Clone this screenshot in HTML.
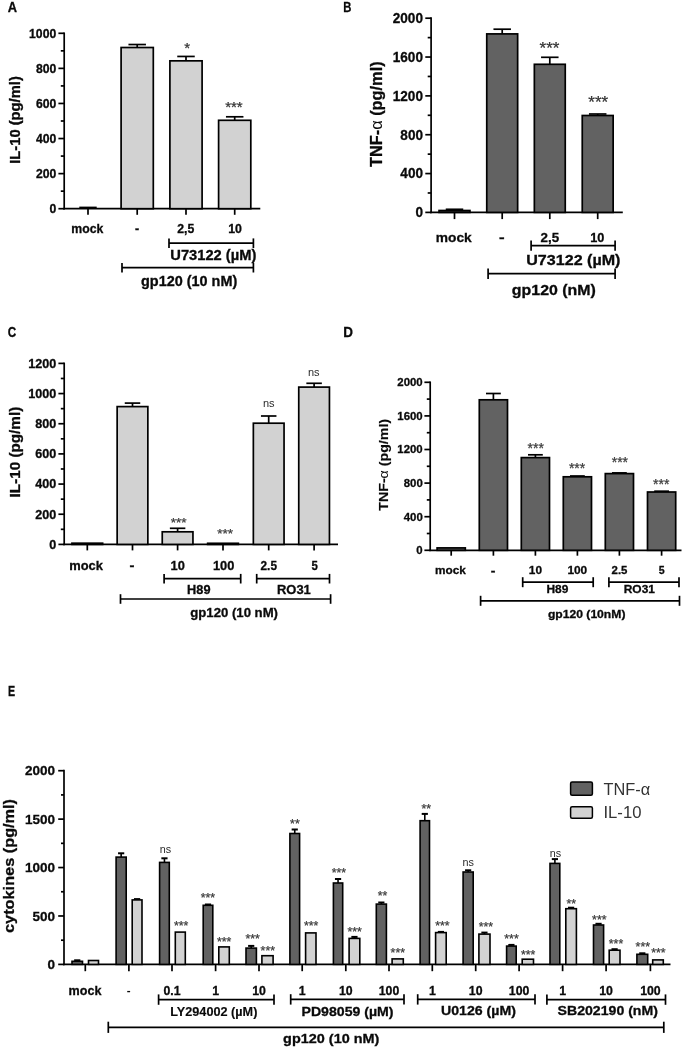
<!DOCTYPE html>
<html><head><meta charset="utf-8"><title>Figure</title>
<style>html,body{margin:0;padding:0;background:#fff}svg{display:block}</style>
</head><body>
<svg width="685" height="1048" viewBox="0 0 685 1048" font-family="'Liberation Sans', sans-serif">
<rect width="685" height="1048" fill="#fff"/>
<text transform="translate(7.71,12.20) scale(0.898,1)" font-size="14.3" font-weight="bold" fill="#0a0a0a" stroke="#0a0a0a" stroke-width="0.3">A</text>
<text transform="translate(19.90,163.83) rotate(-90) scale(1.032,1)" font-size="14.3" font-weight="bold" fill="#0a0a0a" stroke="#0a0a0a" stroke-width="0.3">IL-10 (pg/ml)</text>
<line x1="64.20" y1="32.45" x2="64.20" y2="209.55" stroke="#000" stroke-width="1.7" stroke-linecap="butt"/>
<line x1="58.40" y1="208.70" x2="64.20" y2="208.70" stroke="#000" stroke-width="1.7" stroke-linecap="butt"/>
<text transform="translate(49.46,212.91) scale(1.0,1)" font-size="12.2" font-weight="bold" fill="#0a0a0a" stroke="#0a0a0a" stroke-width="0.3">0</text>
<line x1="58.40" y1="173.62" x2="64.20" y2="173.62" stroke="#000" stroke-width="1.7" stroke-linecap="butt"/>
<text transform="translate(35.91,177.83) scale(1.0,1)" font-size="12.2" font-weight="bold" fill="#0a0a0a" stroke="#0a0a0a" stroke-width="0.3">200</text>
<line x1="58.40" y1="138.54" x2="64.20" y2="138.54" stroke="#000" stroke-width="1.7" stroke-linecap="butt"/>
<text transform="translate(35.91,142.75) scale(1.0,1)" font-size="12.2" font-weight="bold" fill="#0a0a0a" stroke="#0a0a0a" stroke-width="0.3">400</text>
<line x1="58.40" y1="103.46" x2="64.20" y2="103.46" stroke="#000" stroke-width="1.7" stroke-linecap="butt"/>
<text transform="translate(35.91,107.67) scale(1.0,1)" font-size="12.2" font-weight="bold" fill="#0a0a0a" stroke="#0a0a0a" stroke-width="0.3">600</text>
<line x1="58.40" y1="68.38" x2="64.20" y2="68.38" stroke="#000" stroke-width="1.7" stroke-linecap="butt"/>
<text transform="translate(35.91,72.59) scale(1.0,1)" font-size="12.2" font-weight="bold" fill="#0a0a0a" stroke="#0a0a0a" stroke-width="0.3">800</text>
<line x1="58.40" y1="33.30" x2="64.20" y2="33.30" stroke="#000" stroke-width="1.7" stroke-linecap="butt"/>
<text transform="translate(29.08,37.51) scale(1.0,1)" font-size="12.2" font-weight="bold" fill="#0a0a0a" stroke="#0a0a0a" stroke-width="0.3">1000</text>
<line x1="60.80" y1="191.16" x2="64.20" y2="191.16" stroke="#000" stroke-width="1.7" stroke-linecap="butt"/>
<line x1="60.80" y1="156.08" x2="64.20" y2="156.08" stroke="#000" stroke-width="1.7" stroke-linecap="butt"/>
<line x1="60.80" y1="121.00" x2="64.20" y2="121.00" stroke="#000" stroke-width="1.7" stroke-linecap="butt"/>
<line x1="60.80" y1="85.92" x2="64.20" y2="85.92" stroke="#000" stroke-width="1.7" stroke-linecap="butt"/>
<line x1="60.80" y1="50.84" x2="64.20" y2="50.84" stroke="#000" stroke-width="1.7" stroke-linecap="butt"/>
<line x1="63.35" y1="208.70" x2="260.30" y2="208.70" stroke="#000" stroke-width="1.7" stroke-linecap="butt"/>
<line x1="79.30" y1="207.50" x2="96.70" y2="207.50" stroke="#000" stroke-width="1.8" stroke-linecap="butt"/>
<line x1="88.00" y1="208.70" x2="88.00" y2="214.80" stroke="#000" stroke-width="1.7" stroke-linecap="butt"/>
<line x1="137.20" y1="47.51" x2="137.20" y2="44.53" stroke="#000" stroke-width="1.7" stroke-linecap="butt"/>
<line x1="128.45" y1="44.53" x2="145.95" y2="44.53" stroke="#000" stroke-width="1.7" stroke-linecap="butt"/>
<rect x="121.10" y="47.51" width="32.20" height="161.19" fill="#d2d2d2" stroke="#000" stroke-width="1.7"/>
<line x1="137.20" y1="208.70" x2="137.20" y2="214.80" stroke="#000" stroke-width="1.7" stroke-linecap="butt"/>
<line x1="186.00" y1="60.84" x2="186.00" y2="56.45" stroke="#000" stroke-width="1.7" stroke-linecap="butt"/>
<line x1="177.25" y1="56.45" x2="194.75" y2="56.45" stroke="#000" stroke-width="1.7" stroke-linecap="butt"/>
<rect x="169.90" y="60.84" width="32.20" height="147.86" fill="#d2d2d2" stroke="#000" stroke-width="1.7"/>
<line x1="186.00" y1="208.70" x2="186.00" y2="214.80" stroke="#000" stroke-width="1.7" stroke-linecap="butt"/>
<line x1="234.70" y1="120.30" x2="234.70" y2="116.79" stroke="#000" stroke-width="1.7" stroke-linecap="butt"/>
<line x1="225.95" y1="116.79" x2="243.45" y2="116.79" stroke="#000" stroke-width="1.7" stroke-linecap="butt"/>
<rect x="218.60" y="120.30" width="32.20" height="88.40" fill="#d2d2d2" stroke="#000" stroke-width="1.7"/>
<line x1="234.70" y1="208.70" x2="234.70" y2="214.80" stroke="#000" stroke-width="1.7" stroke-linecap="butt"/>
<text transform="translate(71.24,232.50) scale(0.974,1)" font-size="12.6" font-weight="bold" fill="#0a0a0a" stroke="#0a0a0a" stroke-width="0.3">mock</text>
<text transform="translate(135.00,232.50) scale(0.984,1)" font-size="12.6" font-weight="bold" fill="#0a0a0a" stroke="#0a0a0a" stroke-width="0.3">-</text>
<text transform="translate(177.23,232.50) scale(0.973,1)" font-size="12.6" font-weight="bold" fill="#0a0a0a" stroke="#0a0a0a" stroke-width="0.3">2,5</text>
<text transform="translate(228.26,232.50) scale(0.980,1)" font-size="12.6" font-weight="bold" fill="#0a0a0a" stroke="#0a0a0a" stroke-width="0.3">10</text>
<text x="187.20" y="52.55" font-size="15" text-anchor="middle" font-weight="normal" fill="#333" stroke="#333" stroke-width="0.25">*</text>
<text x="233.90" y="111.65" font-size="15" text-anchor="middle" font-weight="normal" fill="#333" stroke="#333" stroke-width="0.25">***</text>
<line x1="169.00" y1="243.20" x2="253.40" y2="243.20" stroke="#000" stroke-width="1.7" stroke-linecap="butt"/>
<line x1="169.00" y1="238.40" x2="169.00" y2="248.00" stroke="#000" stroke-width="1.7" stroke-linecap="butt"/>
<line x1="253.40" y1="238.40" x2="253.40" y2="248.00" stroke="#000" stroke-width="1.7" stroke-linecap="butt"/>
<text transform="translate(170.32,259.70) scale(1.065,1)" font-size="13.8" font-weight="bold" fill="#0a0a0a" stroke="#0a0a0a" stroke-width="0.3">U73122 (µM)</text>
<line x1="122.00" y1="267.70" x2="253.40" y2="267.70" stroke="#000" stroke-width="1.7" stroke-linecap="butt"/>
<line x1="122.00" y1="262.90" x2="122.00" y2="272.50" stroke="#000" stroke-width="1.7" stroke-linecap="butt"/>
<line x1="253.40" y1="262.90" x2="253.40" y2="272.50" stroke="#000" stroke-width="1.7" stroke-linecap="butt"/>
<text transform="translate(141.02,286.20) scale(1.047,1)" font-size="13.8" font-weight="bold" fill="#0a0a0a" stroke="#0a0a0a" stroke-width="0.3">gp120 (10 nM)</text>
<text transform="translate(343.31,11.90) scale(0.791,1)" font-size="14.3" font-weight="bold" fill="#0a0a0a" stroke="#0a0a0a" stroke-width="0.3">B</text>
<text transform="translate(381.50,167.06) rotate(-90) scale(1.010,1)" font-size="16.2" font-weight="bold" fill="#0a0a0a" stroke="#0a0a0a" stroke-width="0.3">TNF-<tspan font-weight="normal" stroke="none">α</tspan> (pg/ml)</text>
<line x1="431.10" y1="17.35" x2="431.10" y2="213.25" stroke="#000" stroke-width="1.7" stroke-linecap="butt"/>
<line x1="425.30" y1="212.40" x2="431.10" y2="212.40" stroke="#000" stroke-width="1.7" stroke-linecap="butt"/>
<text transform="translate(415.44,217.23) scale(0.97,1)" font-size="14.0" font-weight="bold" fill="#0a0a0a" stroke="#0a0a0a" stroke-width="0.3">0</text>
<line x1="425.30" y1="173.56" x2="431.10" y2="173.56" stroke="#000" stroke-width="1.7" stroke-linecap="butt"/>
<text transform="translate(400.36,178.39) scale(0.97,1)" font-size="14.0" font-weight="bold" fill="#0a0a0a" stroke="#0a0a0a" stroke-width="0.3">400</text>
<line x1="425.30" y1="134.72" x2="431.10" y2="134.72" stroke="#000" stroke-width="1.7" stroke-linecap="butt"/>
<text transform="translate(400.36,139.55) scale(0.97,1)" font-size="14.0" font-weight="bold" fill="#0a0a0a" stroke="#0a0a0a" stroke-width="0.3">800</text>
<line x1="425.30" y1="95.88" x2="431.10" y2="95.88" stroke="#000" stroke-width="1.7" stroke-linecap="butt"/>
<text transform="translate(392.76,100.71) scale(0.97,1)" font-size="14.0" font-weight="bold" fill="#0a0a0a" stroke="#0a0a0a" stroke-width="0.3">1200</text>
<line x1="425.30" y1="57.04" x2="431.10" y2="57.04" stroke="#000" stroke-width="1.7" stroke-linecap="butt"/>
<text transform="translate(392.76,61.87) scale(0.97,1)" font-size="14.0" font-weight="bold" fill="#0a0a0a" stroke="#0a0a0a" stroke-width="0.3">1600</text>
<line x1="425.30" y1="18.20" x2="431.10" y2="18.20" stroke="#000" stroke-width="1.7" stroke-linecap="butt"/>
<text transform="translate(392.76,23.03) scale(0.97,1)" font-size="14.0" font-weight="bold" fill="#0a0a0a" stroke="#0a0a0a" stroke-width="0.3">2000</text>
<line x1="427.70" y1="192.98" x2="431.10" y2="192.98" stroke="#000" stroke-width="1.7" stroke-linecap="butt"/>
<line x1="427.70" y1="154.14" x2="431.10" y2="154.14" stroke="#000" stroke-width="1.7" stroke-linecap="butt"/>
<line x1="427.70" y1="115.30" x2="431.10" y2="115.30" stroke="#000" stroke-width="1.7" stroke-linecap="butt"/>
<line x1="427.70" y1="76.46" x2="431.10" y2="76.46" stroke="#000" stroke-width="1.7" stroke-linecap="butt"/>
<line x1="427.70" y1="37.62" x2="431.10" y2="37.62" stroke="#000" stroke-width="1.7" stroke-linecap="butt"/>
<line x1="430.25" y1="212.40" x2="622.80" y2="212.40" stroke="#000" stroke-width="1.7" stroke-linecap="butt"/>
<line x1="454.50" y1="210.50" x2="454.50" y2="209.30" stroke="#000" stroke-width="1.7" stroke-linecap="butt"/>
<line x1="445.75" y1="209.30" x2="463.25" y2="209.30" stroke="#000" stroke-width="1.7" stroke-linecap="butt"/>
<rect x="439.05" y="210.50" width="30.90" height="1.90" fill="#626262" stroke="#000" stroke-width="1.7"/>
<line x1="454.50" y1="212.40" x2="454.50" y2="219.10" stroke="#000" stroke-width="1.7" stroke-linecap="butt"/>
<line x1="502.20" y1="33.90" x2="502.20" y2="29.20" stroke="#000" stroke-width="1.7" stroke-linecap="butt"/>
<line x1="493.45" y1="29.20" x2="510.95" y2="29.20" stroke="#000" stroke-width="1.7" stroke-linecap="butt"/>
<rect x="486.75" y="33.90" width="30.90" height="178.50" fill="#626262" stroke="#000" stroke-width="1.7"/>
<line x1="502.20" y1="212.40" x2="502.20" y2="219.10" stroke="#000" stroke-width="1.7" stroke-linecap="butt"/>
<line x1="549.80" y1="64.30" x2="549.80" y2="57.30" stroke="#000" stroke-width="1.7" stroke-linecap="butt"/>
<line x1="541.05" y1="57.30" x2="558.55" y2="57.30" stroke="#000" stroke-width="1.7" stroke-linecap="butt"/>
<rect x="534.35" y="64.30" width="30.90" height="148.10" fill="#626262" stroke="#000" stroke-width="1.7"/>
<line x1="549.80" y1="212.40" x2="549.80" y2="219.10" stroke="#000" stroke-width="1.7" stroke-linecap="butt"/>
<line x1="597.70" y1="115.50" x2="597.70" y2="114.00" stroke="#000" stroke-width="1.7" stroke-linecap="butt"/>
<line x1="588.95" y1="114.00" x2="606.45" y2="114.00" stroke="#000" stroke-width="1.7" stroke-linecap="butt"/>
<rect x="582.25" y="115.50" width="30.90" height="96.90" fill="#626262" stroke="#000" stroke-width="1.7"/>
<line x1="597.70" y1="212.40" x2="597.70" y2="219.10" stroke="#000" stroke-width="1.7" stroke-linecap="butt"/>
<text transform="translate(435.84,241.80) scale(1.012,1)" font-size="13.6" font-weight="bold" fill="#0a0a0a" stroke="#0a0a0a" stroke-width="0.3">mock</text>
<text transform="translate(499.03,241.80) scale(1.235,1)" font-size="13.6" font-weight="bold" fill="#0a0a0a" stroke="#0a0a0a" stroke-width="0.3">-</text>
<text transform="translate(540.50,241.80) scale(0.999,1)" font-size="13.4" font-weight="bold" fill="#0a0a0a" stroke="#0a0a0a" stroke-width="0.3">2,5</text>
<text transform="translate(590.24,241.80) scale(0.951,1)" font-size="13.4" font-weight="bold" fill="#0a0a0a" stroke="#0a0a0a" stroke-width="0.3">10</text>
<text x="549.50" y="53.83" font-size="17" text-anchor="middle" font-weight="normal" fill="#333" stroke="#333" stroke-width="0.25">***</text>
<text x="598.30" y="108.33" font-size="17" text-anchor="middle" font-weight="normal" fill="#333" stroke="#333" stroke-width="0.25">***</text>
<line x1="531.10" y1="245.60" x2="615.10" y2="245.60" stroke="#000" stroke-width="1.7" stroke-linecap="butt"/>
<line x1="531.10" y1="240.40" x2="531.10" y2="250.80" stroke="#000" stroke-width="1.7" stroke-linecap="butt"/>
<line x1="615.10" y1="240.40" x2="615.10" y2="250.80" stroke="#000" stroke-width="1.7" stroke-linecap="butt"/>
<text transform="translate(526.23,265.20) scale(1.103,1)" font-size="14.6" font-weight="bold" fill="#0a0a0a" stroke="#0a0a0a" stroke-width="0.3">U73122 (µM)</text>
<line x1="488.10" y1="273.70" x2="615.10" y2="273.70" stroke="#000" stroke-width="1.7" stroke-linecap="butt"/>
<line x1="488.10" y1="268.40" x2="488.10" y2="279.00" stroke="#000" stroke-width="1.7" stroke-linecap="butt"/>
<line x1="615.10" y1="268.40" x2="615.10" y2="279.00" stroke="#000" stroke-width="1.7" stroke-linecap="butt"/>
<text transform="translate(511.86,294.90) scale(1.090,1)" font-size="14.6" font-weight="bold" fill="#0a0a0a" stroke="#0a0a0a" stroke-width="0.3">gp120 (nM)</text>
<text transform="translate(7.73,337.00) scale(0.818,1)" font-size="14.3" font-weight="bold" fill="#0a0a0a" stroke="#0a0a0a" stroke-width="0.3">C</text>
<text transform="translate(19.80,497.47) rotate(-90) scale(1.068,1)" font-size="14.3" font-weight="bold" fill="#0a0a0a" stroke="#0a0a0a" stroke-width="0.3">IL-10 (pg/ml)</text>
<line x1="64.20" y1="362.55" x2="64.20" y2="545.25" stroke="#000" stroke-width="1.7" stroke-linecap="butt"/>
<line x1="58.40" y1="544.40" x2="64.20" y2="544.40" stroke="#000" stroke-width="1.7" stroke-linecap="butt"/>
<text transform="translate(49.35,548.75) scale(1.0,1)" font-size="12.6" font-weight="bold" fill="#0a0a0a" stroke="#0a0a0a" stroke-width="0.3">0</text>
<line x1="58.40" y1="514.23" x2="64.20" y2="514.23" stroke="#000" stroke-width="1.7" stroke-linecap="butt"/>
<text transform="translate(35.36,518.58) scale(1.0,1)" font-size="12.6" font-weight="bold" fill="#0a0a0a" stroke="#0a0a0a" stroke-width="0.3">200</text>
<line x1="58.40" y1="484.07" x2="64.20" y2="484.07" stroke="#000" stroke-width="1.7" stroke-linecap="butt"/>
<text transform="translate(35.36,488.41) scale(1.0,1)" font-size="12.6" font-weight="bold" fill="#0a0a0a" stroke="#0a0a0a" stroke-width="0.3">400</text>
<line x1="58.40" y1="453.90" x2="64.20" y2="453.90" stroke="#000" stroke-width="1.7" stroke-linecap="butt"/>
<text transform="translate(35.36,458.25) scale(1.0,1)" font-size="12.6" font-weight="bold" fill="#0a0a0a" stroke="#0a0a0a" stroke-width="0.3">600</text>
<line x1="58.40" y1="423.73" x2="64.20" y2="423.73" stroke="#000" stroke-width="1.7" stroke-linecap="butt"/>
<text transform="translate(35.36,428.08) scale(1.0,1)" font-size="12.6" font-weight="bold" fill="#0a0a0a" stroke="#0a0a0a" stroke-width="0.3">800</text>
<line x1="58.40" y1="393.57" x2="64.20" y2="393.57" stroke="#000" stroke-width="1.7" stroke-linecap="butt"/>
<text transform="translate(28.31,397.91) scale(1.0,1)" font-size="12.6" font-weight="bold" fill="#0a0a0a" stroke="#0a0a0a" stroke-width="0.3">1000</text>
<line x1="58.40" y1="363.40" x2="64.20" y2="363.40" stroke="#000" stroke-width="1.7" stroke-linecap="butt"/>
<text transform="translate(28.31,367.75) scale(1.0,1)" font-size="12.6" font-weight="bold" fill="#0a0a0a" stroke="#0a0a0a" stroke-width="0.3">1200</text>
<line x1="60.80" y1="529.32" x2="64.20" y2="529.32" stroke="#000" stroke-width="1.7" stroke-linecap="butt"/>
<line x1="60.80" y1="499.15" x2="64.20" y2="499.15" stroke="#000" stroke-width="1.7" stroke-linecap="butt"/>
<line x1="60.80" y1="468.98" x2="64.20" y2="468.98" stroke="#000" stroke-width="1.7" stroke-linecap="butt"/>
<line x1="60.80" y1="438.82" x2="64.20" y2="438.82" stroke="#000" stroke-width="1.7" stroke-linecap="butt"/>
<line x1="60.80" y1="408.65" x2="64.20" y2="408.65" stroke="#000" stroke-width="1.7" stroke-linecap="butt"/>
<line x1="60.80" y1="378.48" x2="64.20" y2="378.48" stroke="#000" stroke-width="1.7" stroke-linecap="butt"/>
<line x1="63.35" y1="544.40" x2="338.00" y2="544.40" stroke="#000" stroke-width="1.7" stroke-linecap="butt"/>
<rect x="71.95" y="543.20" width="30.70" height="1.20" fill="#d2d2d2" stroke="#000" stroke-width="1.7"/>
<line x1="87.30" y1="544.40" x2="87.30" y2="550.40" stroke="#000" stroke-width="1.7" stroke-linecap="butt"/>
<line x1="132.50" y1="406.60" x2="132.50" y2="403.10" stroke="#000" stroke-width="1.7" stroke-linecap="butt"/>
<line x1="124.75" y1="403.10" x2="140.25" y2="403.10" stroke="#000" stroke-width="1.7" stroke-linecap="butt"/>
<rect x="117.15" y="406.60" width="30.70" height="137.80" fill="#d2d2d2" stroke="#000" stroke-width="1.7"/>
<line x1="132.50" y1="544.40" x2="132.50" y2="550.40" stroke="#000" stroke-width="1.7" stroke-linecap="butt"/>
<line x1="177.60" y1="531.80" x2="177.60" y2="528.30" stroke="#000" stroke-width="1.7" stroke-linecap="butt"/>
<line x1="169.85" y1="528.30" x2="185.35" y2="528.30" stroke="#000" stroke-width="1.7" stroke-linecap="butt"/>
<rect x="162.25" y="531.80" width="30.70" height="12.60" fill="#d2d2d2" stroke="#000" stroke-width="1.7"/>
<line x1="177.60" y1="544.40" x2="177.60" y2="550.40" stroke="#000" stroke-width="1.7" stroke-linecap="butt"/>
<rect x="207.65" y="543.30" width="30.70" height="1.10" fill="#d2d2d2" stroke="#000" stroke-width="1.7"/>
<line x1="223.00" y1="544.40" x2="223.00" y2="550.40" stroke="#000" stroke-width="1.7" stroke-linecap="butt"/>
<line x1="268.70" y1="423.20" x2="268.70" y2="416.00" stroke="#000" stroke-width="1.7" stroke-linecap="butt"/>
<line x1="260.95" y1="416.00" x2="276.45" y2="416.00" stroke="#000" stroke-width="1.7" stroke-linecap="butt"/>
<rect x="253.35" y="423.20" width="30.70" height="121.20" fill="#d2d2d2" stroke="#000" stroke-width="1.7"/>
<line x1="268.70" y1="544.40" x2="268.70" y2="550.40" stroke="#000" stroke-width="1.7" stroke-linecap="butt"/>
<line x1="314.10" y1="387.10" x2="314.10" y2="383.30" stroke="#000" stroke-width="1.7" stroke-linecap="butt"/>
<line x1="306.35" y1="383.30" x2="321.85" y2="383.30" stroke="#000" stroke-width="1.7" stroke-linecap="butt"/>
<rect x="298.75" y="387.10" width="30.70" height="157.30" fill="#d2d2d2" stroke="#000" stroke-width="1.7"/>
<line x1="314.10" y1="544.40" x2="314.10" y2="550.40" stroke="#000" stroke-width="1.7" stroke-linecap="butt"/>
<text transform="translate(69.20,569.80) scale(1.008,1)" font-size="12.8" font-weight="bold" fill="#0a0a0a" stroke="#0a0a0a" stroke-width="0.3">mock</text>
<text transform="translate(129.41,569.80) scale(1.156,1)" font-size="12.8" font-weight="bold" fill="#0a0a0a" stroke="#0a0a0a" stroke-width="0.3">-</text>
<text transform="translate(170.53,569.80) scale(1.003,1)" font-size="12.8" font-weight="bold" fill="#0a0a0a" stroke="#0a0a0a" stroke-width="0.3">10</text>
<text transform="translate(212.93,569.80) scale(1.005,1)" font-size="12.8" font-weight="bold" fill="#0a0a0a" stroke="#0a0a0a" stroke-width="0.3">100</text>
<text transform="translate(260.55,569.80) scale(0.922,1)" font-size="12.8" font-weight="bold" fill="#0a0a0a" stroke="#0a0a0a" stroke-width="0.3">2.5</text>
<text transform="translate(311.46,569.80) scale(0.891,1)" font-size="12.8" font-weight="bold" fill="#0a0a0a" stroke="#0a0a0a" stroke-width="0.3">5</text>
<text x="178.70" y="527.18" font-size="13.6" text-anchor="middle" font-weight="normal" fill="#3c3c3c" stroke="#3c3c3c" stroke-width="0.25">***</text>
<text x="225.10" y="537.78" font-size="13.6" text-anchor="middle" font-weight="normal" fill="#3c3c3c" stroke="#3c3c3c" stroke-width="0.25">***</text>
<text x="268.70" y="406.60" font-size="11" text-anchor="middle" font-weight="normal" fill="#2a2a2a">ns</text>
<text x="313.70" y="376.00" font-size="11" text-anchor="middle" font-weight="normal" fill="#2a2a2a">ns</text>
<line x1="164.10" y1="578.70" x2="240.70" y2="578.70" stroke="#000" stroke-width="1.7" stroke-linecap="butt"/>
<line x1="164.10" y1="573.90" x2="164.10" y2="583.50" stroke="#000" stroke-width="1.7" stroke-linecap="butt"/>
<line x1="240.70" y1="573.90" x2="240.70" y2="583.50" stroke="#000" stroke-width="1.7" stroke-linecap="butt"/>
<text transform="translate(187.11,594.30) scale(1.014,1)" font-size="12.6" font-weight="bold" fill="#0a0a0a" stroke="#0a0a0a" stroke-width="0.3">H89</text>
<line x1="256.70" y1="578.70" x2="329.50" y2="578.70" stroke="#000" stroke-width="1.7" stroke-linecap="butt"/>
<line x1="256.70" y1="573.90" x2="256.70" y2="583.50" stroke="#000" stroke-width="1.7" stroke-linecap="butt"/>
<line x1="329.50" y1="573.90" x2="329.50" y2="583.50" stroke="#000" stroke-width="1.7" stroke-linecap="butt"/>
<text transform="translate(276.99,594.30) scale(1.027,1)" font-size="12.6" font-weight="bold" fill="#0a0a0a" stroke="#0a0a0a" stroke-width="0.3">RO31</text>
<line x1="120.50" y1="599.00" x2="330.60" y2="599.00" stroke="#000" stroke-width="1.7" stroke-linecap="butt"/>
<line x1="120.50" y1="594.20" x2="120.50" y2="603.80" stroke="#000" stroke-width="1.7" stroke-linecap="butt"/>
<line x1="330.60" y1="594.20" x2="330.60" y2="603.80" stroke="#000" stroke-width="1.7" stroke-linecap="butt"/>
<text transform="translate(190.27,617.00) scale(1.029,1)" font-size="12.8" font-weight="bold" fill="#0a0a0a" stroke="#0a0a0a" stroke-width="0.3">gp120 (10 nM)</text>
<text transform="translate(343.16,337.00) scale(0.940,1)" font-size="14.3" font-weight="bold" fill="#0a0a0a" stroke="#0a0a0a" stroke-width="0.3">D</text>
<text transform="translate(387.80,510.74) rotate(-90) scale(1.129,1)" font-size="12.6" font-weight="bold" fill="#0a0a0a" stroke="#0a0a0a" stroke-width="0.15">TNF-<tspan font-weight="normal" stroke="none">α</tspan> (pg/ml)</text>
<line x1="430.20" y1="381.45" x2="430.20" y2="551.15" stroke="#000" stroke-width="1.7" stroke-linecap="butt"/>
<line x1="424.40" y1="550.30" x2="430.20" y2="550.30" stroke="#000" stroke-width="1.7" stroke-linecap="butt"/>
<text transform="translate(416.37,554.23) scale(1.0,1)" font-size="11.4" font-weight="bold" fill="#0a0a0a" stroke="#0a0a0a" stroke-width="0.3">0</text>
<line x1="424.40" y1="516.70" x2="430.20" y2="516.70" stroke="#000" stroke-width="1.7" stroke-linecap="butt"/>
<text transform="translate(403.72,520.63) scale(1.0,1)" font-size="11.4" font-weight="bold" fill="#0a0a0a" stroke="#0a0a0a" stroke-width="0.3">400</text>
<line x1="424.40" y1="483.10" x2="430.20" y2="483.10" stroke="#000" stroke-width="1.7" stroke-linecap="butt"/>
<text transform="translate(403.72,487.03) scale(1.0,1)" font-size="11.4" font-weight="bold" fill="#0a0a0a" stroke="#0a0a0a" stroke-width="0.3">800</text>
<line x1="424.40" y1="449.50" x2="430.20" y2="449.50" stroke="#000" stroke-width="1.7" stroke-linecap="butt"/>
<text transform="translate(397.33,453.43) scale(1.0,1)" font-size="11.4" font-weight="bold" fill="#0a0a0a" stroke="#0a0a0a" stroke-width="0.3">1200</text>
<line x1="424.40" y1="415.90" x2="430.20" y2="415.90" stroke="#000" stroke-width="1.7" stroke-linecap="butt"/>
<text transform="translate(397.33,419.83) scale(1.0,1)" font-size="11.4" font-weight="bold" fill="#0a0a0a" stroke="#0a0a0a" stroke-width="0.3">1600</text>
<line x1="424.40" y1="382.30" x2="430.20" y2="382.30" stroke="#000" stroke-width="1.7" stroke-linecap="butt"/>
<text transform="translate(397.33,386.23) scale(1.0,1)" font-size="11.4" font-weight="bold" fill="#0a0a0a" stroke="#0a0a0a" stroke-width="0.3">2000</text>
<line x1="426.80" y1="533.50" x2="430.20" y2="533.50" stroke="#000" stroke-width="1.7" stroke-linecap="butt"/>
<line x1="426.80" y1="499.90" x2="430.20" y2="499.90" stroke="#000" stroke-width="1.7" stroke-linecap="butt"/>
<line x1="426.80" y1="466.30" x2="430.20" y2="466.30" stroke="#000" stroke-width="1.7" stroke-linecap="butt"/>
<line x1="426.80" y1="432.70" x2="430.20" y2="432.70" stroke="#000" stroke-width="1.7" stroke-linecap="butt"/>
<line x1="426.80" y1="399.10" x2="430.20" y2="399.10" stroke="#000" stroke-width="1.7" stroke-linecap="butt"/>
<line x1="429.35" y1="550.30" x2="681.50" y2="550.30" stroke="#000" stroke-width="1.7" stroke-linecap="butt"/>
<rect x="437.10" y="547.90" width="28.20" height="2.40" fill="#626262" stroke="#000" stroke-width="1.7"/>
<line x1="451.20" y1="550.30" x2="451.20" y2="555.70" stroke="#000" stroke-width="1.7" stroke-linecap="butt"/>
<line x1="493.40" y1="399.80" x2="493.40" y2="393.50" stroke="#000" stroke-width="1.7" stroke-linecap="butt"/>
<line x1="486.00" y1="393.50" x2="500.80" y2="393.50" stroke="#000" stroke-width="1.7" stroke-linecap="butt"/>
<rect x="479.30" y="399.80" width="28.20" height="150.50" fill="#626262" stroke="#000" stroke-width="1.7"/>
<line x1="493.40" y1="550.30" x2="493.40" y2="555.70" stroke="#000" stroke-width="1.7" stroke-linecap="butt"/>
<line x1="535.40" y1="457.60" x2="535.40" y2="454.80" stroke="#000" stroke-width="1.7" stroke-linecap="butt"/>
<line x1="528.00" y1="454.80" x2="542.80" y2="454.80" stroke="#000" stroke-width="1.7" stroke-linecap="butt"/>
<rect x="521.30" y="457.60" width="28.20" height="92.70" fill="#626262" stroke="#000" stroke-width="1.7"/>
<line x1="535.40" y1="550.30" x2="535.40" y2="555.70" stroke="#000" stroke-width="1.7" stroke-linecap="butt"/>
<line x1="577.40" y1="476.80" x2="577.40" y2="476.00" stroke="#000" stroke-width="1.7" stroke-linecap="butt"/>
<line x1="570.00" y1="476.00" x2="584.80" y2="476.00" stroke="#000" stroke-width="1.7" stroke-linecap="butt"/>
<rect x="563.30" y="476.80" width="28.20" height="73.50" fill="#626262" stroke="#000" stroke-width="1.7"/>
<line x1="577.40" y1="550.30" x2="577.40" y2="555.70" stroke="#000" stroke-width="1.7" stroke-linecap="butt"/>
<line x1="619.40" y1="473.60" x2="619.40" y2="472.90" stroke="#000" stroke-width="1.7" stroke-linecap="butt"/>
<line x1="612.00" y1="472.90" x2="626.80" y2="472.90" stroke="#000" stroke-width="1.7" stroke-linecap="butt"/>
<rect x="605.30" y="473.60" width="28.20" height="76.70" fill="#626262" stroke="#000" stroke-width="1.7"/>
<line x1="619.40" y1="550.30" x2="619.40" y2="555.70" stroke="#000" stroke-width="1.7" stroke-linecap="butt"/>
<line x1="661.60" y1="492.00" x2="661.60" y2="491.20" stroke="#000" stroke-width="1.7" stroke-linecap="butt"/>
<line x1="654.20" y1="491.20" x2="669.00" y2="491.20" stroke="#000" stroke-width="1.7" stroke-linecap="butt"/>
<rect x="647.50" y="492.00" width="28.20" height="58.30" fill="#626262" stroke="#000" stroke-width="1.7"/>
<line x1="661.60" y1="550.30" x2="661.60" y2="555.70" stroke="#000" stroke-width="1.7" stroke-linecap="butt"/>
<text transform="translate(435.07,574.40) scale(1.000,1)" font-size="11.8" font-weight="bold" fill="#0a0a0a" stroke="#0a0a0a" stroke-width="0.3">mock</text>
<text transform="translate(490.74,574.40) scale(1.186,1)" font-size="11.8" font-weight="bold" fill="#0a0a0a" stroke="#0a0a0a" stroke-width="0.3">-</text>
<text transform="translate(528.79,574.40) scale(1.005,1)" font-size="11.8" font-weight="bold" fill="#0a0a0a" stroke="#0a0a0a" stroke-width="0.3">10</text>
<text transform="translate(567.39,574.40) scale(1.009,1)" font-size="11.8" font-weight="bold" fill="#0a0a0a" stroke="#0a0a0a" stroke-width="0.3">100</text>
<text transform="translate(611.56,574.40) scale(0.969,1)" font-size="11.8" font-weight="bold" fill="#0a0a0a" stroke="#0a0a0a" stroke-width="0.3">2.5</text>
<text transform="translate(658.68,574.40) scale(0.898,1)" font-size="11.8" font-weight="bold" fill="#0a0a0a" stroke="#0a0a0a" stroke-width="0.3">5</text>
<text x="535.80" y="452.86" font-size="14" text-anchor="middle" font-weight="normal" fill="#3c3c3c" stroke="#3c3c3c" stroke-width="0.25">***</text>
<text x="577.10" y="473.16" font-size="14" text-anchor="middle" font-weight="normal" fill="#3c3c3c" stroke="#3c3c3c" stroke-width="0.25">***</text>
<text x="619.90" y="467.46" font-size="14" text-anchor="middle" font-weight="normal" fill="#3c3c3c" stroke="#3c3c3c" stroke-width="0.25">***</text>
<text x="661.20" y="488.56" font-size="14" text-anchor="middle" font-weight="normal" fill="#3c3c3c" stroke="#3c3c3c" stroke-width="0.25">***</text>
<line x1="522.70" y1="582.20" x2="593.20" y2="582.20" stroke="#000" stroke-width="1.7" stroke-linecap="butt"/>
<line x1="522.70" y1="577.20" x2="522.70" y2="587.20" stroke="#000" stroke-width="1.7" stroke-linecap="butt"/>
<line x1="593.20" y1="577.20" x2="593.20" y2="587.20" stroke="#000" stroke-width="1.7" stroke-linecap="butt"/>
<text transform="translate(546.46,592.80) scale(1.050,1)" font-size="11.4" font-weight="bold" fill="#0a0a0a" stroke="#0a0a0a" stroke-width="0.3">H89</text>
<line x1="608.90" y1="582.20" x2="679.00" y2="582.20" stroke="#000" stroke-width="1.7" stroke-linecap="butt"/>
<line x1="608.90" y1="577.20" x2="608.90" y2="587.20" stroke="#000" stroke-width="1.7" stroke-linecap="butt"/>
<line x1="679.00" y1="577.20" x2="679.00" y2="587.20" stroke="#000" stroke-width="1.7" stroke-linecap="butt"/>
<text transform="translate(623.76,592.80) scale(1.048,1)" font-size="11.4" font-weight="bold" fill="#0a0a0a" stroke="#0a0a0a" stroke-width="0.3">RO31</text>
<line x1="480.60" y1="600.80" x2="679.50" y2="600.80" stroke="#000" stroke-width="1.7" stroke-linecap="butt"/>
<line x1="480.60" y1="595.80" x2="480.60" y2="605.80" stroke="#000" stroke-width="1.7" stroke-linecap="butt"/>
<line x1="679.50" y1="595.80" x2="679.50" y2="605.80" stroke="#000" stroke-width="1.7" stroke-linecap="butt"/>
<text transform="translate(547.91,618.00) scale(1.065,1)" font-size="11.4" font-weight="bold" fill="#0a0a0a" stroke="#0a0a0a" stroke-width="0.3">gp120 (10nM)</text>
<text transform="translate(8.05,696.40) scale(0.749,1)" font-size="14.3" font-weight="bold" fill="#0a0a0a" stroke="#0a0a0a" stroke-width="0.3">E</text>
<text transform="translate(14.40,932.95) rotate(-90) scale(1.073,1)" font-size="15.2" font-weight="bold" fill="#0a0a0a" stroke="#0a0a0a" stroke-width="0.3">cytokines (pg/ml)</text>
<line x1="64.00" y1="769.85" x2="64.00" y2="965.25" stroke="#000" stroke-width="1.7" stroke-linecap="butt"/>
<line x1="58.20" y1="964.40" x2="64.00" y2="964.40" stroke="#000" stroke-width="1.7" stroke-linecap="butt"/>
<text transform="translate(47.58,969.06) scale(1.0,1)" font-size="13.5" font-weight="bold" fill="#0a0a0a" stroke="#0a0a0a" stroke-width="0.3">0</text>
<line x1="58.20" y1="915.98" x2="64.00" y2="915.98" stroke="#000" stroke-width="1.7" stroke-linecap="butt"/>
<text transform="translate(32.59,920.63) scale(1.0,1)" font-size="13.5" font-weight="bold" fill="#0a0a0a" stroke="#0a0a0a" stroke-width="0.3">500</text>
<line x1="58.20" y1="867.55" x2="64.00" y2="867.55" stroke="#000" stroke-width="1.7" stroke-linecap="butt"/>
<text transform="translate(25.04,872.21) scale(1.0,1)" font-size="13.5" font-weight="bold" fill="#0a0a0a" stroke="#0a0a0a" stroke-width="0.3">1000</text>
<line x1="58.20" y1="819.12" x2="64.00" y2="819.12" stroke="#000" stroke-width="1.7" stroke-linecap="butt"/>
<text transform="translate(25.04,823.78) scale(1.0,1)" font-size="13.5" font-weight="bold" fill="#0a0a0a" stroke="#0a0a0a" stroke-width="0.3">1500</text>
<line x1="58.20" y1="770.70" x2="64.00" y2="770.70" stroke="#000" stroke-width="1.7" stroke-linecap="butt"/>
<text transform="translate(25.04,775.36) scale(1.0,1)" font-size="13.5" font-weight="bold" fill="#0a0a0a" stroke="#0a0a0a" stroke-width="0.3">2000</text>
<line x1="61.00" y1="940.19" x2="64.00" y2="940.19" stroke="#000" stroke-width="1.7" stroke-linecap="butt"/>
<line x1="61.00" y1="891.76" x2="64.00" y2="891.76" stroke="#000" stroke-width="1.7" stroke-linecap="butt"/>
<line x1="61.00" y1="843.34" x2="64.00" y2="843.34" stroke="#000" stroke-width="1.7" stroke-linecap="butt"/>
<line x1="61.00" y1="794.91" x2="64.00" y2="794.91" stroke="#000" stroke-width="1.7" stroke-linecap="butt"/>
<line x1="63.15" y1="964.40" x2="670.50" y2="964.40" stroke="#000" stroke-width="1.7" stroke-linecap="butt"/>
<line x1="77.25" y1="961.30" x2="77.25" y2="960.30" stroke="#000" stroke-width="1.6" stroke-linecap="butt"/>
<line x1="74.15" y1="960.30" x2="80.35" y2="960.30" stroke="#000" stroke-width="2.0" stroke-linecap="butt"/>
<rect x="72.00" y="961.30" width="10.50" height="3.10" fill="#626262" stroke="#000" stroke-width="1.6"/>
<rect x="88.50" y="960.50" width="10.00" height="3.90" fill="#d2d2d2" stroke="#000" stroke-width="1.6"/>
<line x1="85.30" y1="964.40" x2="85.30" y2="971.20" stroke="#000" stroke-width="1.7" stroke-linecap="butt"/>
<line x1="121.15" y1="857.10" x2="121.15" y2="853.30" stroke="#000" stroke-width="1.6" stroke-linecap="butt"/>
<line x1="118.05" y1="853.30" x2="124.25" y2="853.30" stroke="#000" stroke-width="2.0" stroke-linecap="butt"/>
<rect x="116.10" y="857.10" width="10.10" height="107.30" fill="#626262" stroke="#000" stroke-width="1.6"/>
<line x1="137.10" y1="899.90" x2="137.10" y2="899.10" stroke="#000" stroke-width="1.6" stroke-linecap="butt"/>
<line x1="134.00" y1="899.10" x2="140.20" y2="899.10" stroke="#000" stroke-width="2.0" stroke-linecap="butt"/>
<rect x="132.20" y="899.90" width="9.80" height="64.50" fill="#d2d2d2" stroke="#000" stroke-width="1.6"/>
<line x1="128.90" y1="964.40" x2="128.90" y2="971.20" stroke="#000" stroke-width="1.7" stroke-linecap="butt"/>
<line x1="164.45" y1="862.40" x2="164.45" y2="858.30" stroke="#000" stroke-width="1.6" stroke-linecap="butt"/>
<line x1="161.35" y1="858.30" x2="167.55" y2="858.30" stroke="#000" stroke-width="2.0" stroke-linecap="butt"/>
<rect x="159.60" y="862.40" width="9.70" height="102.00" fill="#626262" stroke="#000" stroke-width="1.6"/>
<rect x="175.30" y="932.10" width="10.00" height="32.30" fill="#d2d2d2" stroke="#000" stroke-width="1.6"/>
<line x1="172.00" y1="964.40" x2="172.00" y2="971.20" stroke="#000" stroke-width="1.7" stroke-linecap="butt"/>
<line x1="208.00" y1="905.30" x2="208.00" y2="904.50" stroke="#000" stroke-width="1.6" stroke-linecap="butt"/>
<line x1="204.90" y1="904.50" x2="211.10" y2="904.50" stroke="#000" stroke-width="2.0" stroke-linecap="butt"/>
<rect x="203.20" y="905.30" width="9.60" height="59.10" fill="#626262" stroke="#000" stroke-width="1.6"/>
<rect x="218.80" y="946.90" width="10.50" height="17.50" fill="#d2d2d2" stroke="#000" stroke-width="1.6"/>
<line x1="215.60" y1="964.40" x2="215.60" y2="971.20" stroke="#000" stroke-width="1.7" stroke-linecap="butt"/>
<line x1="251.20" y1="948.10" x2="251.20" y2="945.90" stroke="#000" stroke-width="1.6" stroke-linecap="butt"/>
<line x1="248.10" y1="945.90" x2="254.30" y2="945.90" stroke="#000" stroke-width="2.0" stroke-linecap="butt"/>
<rect x="246.00" y="948.10" width="10.40" height="16.30" fill="#626262" stroke="#000" stroke-width="1.6"/>
<rect x="261.90" y="955.70" width="11.20" height="8.70" fill="#d2d2d2" stroke="#000" stroke-width="1.6"/>
<line x1="259.00" y1="964.40" x2="259.00" y2="971.20" stroke="#000" stroke-width="1.7" stroke-linecap="butt"/>
<line x1="294.75" y1="833.50" x2="294.75" y2="829.50" stroke="#000" stroke-width="1.6" stroke-linecap="butt"/>
<line x1="291.65" y1="829.50" x2="297.85" y2="829.50" stroke="#000" stroke-width="2.0" stroke-linecap="butt"/>
<rect x="289.90" y="833.50" width="9.70" height="130.90" fill="#626262" stroke="#000" stroke-width="1.6"/>
<rect x="305.60" y="932.90" width="10.40" height="31.50" fill="#d2d2d2" stroke="#000" stroke-width="1.6"/>
<line x1="302.20" y1="964.40" x2="302.20" y2="971.20" stroke="#000" stroke-width="1.7" stroke-linecap="butt"/>
<line x1="338.05" y1="883.00" x2="338.05" y2="879.00" stroke="#000" stroke-width="1.6" stroke-linecap="butt"/>
<line x1="334.95" y1="879.00" x2="341.15" y2="879.00" stroke="#000" stroke-width="2.0" stroke-linecap="butt"/>
<rect x="333.40" y="883.00" width="9.30" height="81.40" fill="#626262" stroke="#000" stroke-width="1.6"/>
<line x1="354.45" y1="938.40" x2="354.45" y2="936.90" stroke="#000" stroke-width="1.6" stroke-linecap="butt"/>
<line x1="351.35" y1="936.90" x2="357.55" y2="936.90" stroke="#000" stroke-width="2.0" stroke-linecap="butt"/>
<rect x="349.10" y="938.40" width="10.70" height="26.00" fill="#d2d2d2" stroke="#000" stroke-width="1.6"/>
<line x1="345.80" y1="964.40" x2="345.80" y2="971.20" stroke="#000" stroke-width="1.7" stroke-linecap="butt"/>
<line x1="381.35" y1="904.10" x2="381.35" y2="902.50" stroke="#000" stroke-width="1.6" stroke-linecap="butt"/>
<line x1="378.25" y1="902.50" x2="384.45" y2="902.50" stroke="#000" stroke-width="2.0" stroke-linecap="butt"/>
<rect x="376.30" y="904.10" width="10.10" height="60.30" fill="#626262" stroke="#000" stroke-width="1.6"/>
<rect x="392.10" y="958.90" width="11.20" height="5.50" fill="#d2d2d2" stroke="#000" stroke-width="1.6"/>
<line x1="389.00" y1="964.40" x2="389.00" y2="971.20" stroke="#000" stroke-width="1.7" stroke-linecap="butt"/>
<line x1="424.80" y1="820.70" x2="424.80" y2="813.90" stroke="#000" stroke-width="1.6" stroke-linecap="butt"/>
<line x1="421.70" y1="813.90" x2="427.90" y2="813.90" stroke="#000" stroke-width="2.0" stroke-linecap="butt"/>
<rect x="420.10" y="820.70" width="9.40" height="143.70" fill="#626262" stroke="#000" stroke-width="1.6"/>
<line x1="440.90" y1="932.60" x2="440.90" y2="931.90" stroke="#000" stroke-width="1.6" stroke-linecap="butt"/>
<line x1="437.80" y1="931.90" x2="444.00" y2="931.90" stroke="#000" stroke-width="2.0" stroke-linecap="butt"/>
<rect x="435.60" y="932.60" width="10.60" height="31.80" fill="#d2d2d2" stroke="#000" stroke-width="1.6"/>
<line x1="432.30" y1="964.40" x2="432.30" y2="971.20" stroke="#000" stroke-width="1.7" stroke-linecap="butt"/>
<line x1="468.15" y1="872.00" x2="468.15" y2="870.30" stroke="#000" stroke-width="1.6" stroke-linecap="butt"/>
<line x1="465.05" y1="870.30" x2="471.25" y2="870.30" stroke="#000" stroke-width="2.0" stroke-linecap="butt"/>
<rect x="463.10" y="872.00" width="10.10" height="92.40" fill="#626262" stroke="#000" stroke-width="1.6"/>
<line x1="484.45" y1="934.10" x2="484.45" y2="932.60" stroke="#000" stroke-width="1.6" stroke-linecap="butt"/>
<line x1="481.35" y1="932.60" x2="487.55" y2="932.60" stroke="#000" stroke-width="2.0" stroke-linecap="butt"/>
<rect x="478.90" y="934.10" width="11.10" height="30.30" fill="#d2d2d2" stroke="#000" stroke-width="1.6"/>
<line x1="475.70" y1="964.40" x2="475.70" y2="971.20" stroke="#000" stroke-width="1.7" stroke-linecap="butt"/>
<line x1="511.40" y1="946.10" x2="511.40" y2="944.90" stroke="#000" stroke-width="1.6" stroke-linecap="butt"/>
<line x1="508.30" y1="944.90" x2="514.50" y2="944.90" stroke="#000" stroke-width="2.0" stroke-linecap="butt"/>
<rect x="506.60" y="946.10" width="9.60" height="18.30" fill="#626262" stroke="#000" stroke-width="1.6"/>
<rect x="522.20" y="959.20" width="11.30" height="5.20" fill="#d2d2d2" stroke="#000" stroke-width="1.6"/>
<line x1="519.10" y1="964.40" x2="519.10" y2="971.20" stroke="#000" stroke-width="1.7" stroke-linecap="butt"/>
<line x1="554.90" y1="863.40" x2="554.90" y2="859.10" stroke="#000" stroke-width="1.6" stroke-linecap="butt"/>
<line x1="551.80" y1="859.10" x2="558.00" y2="859.10" stroke="#000" stroke-width="2.0" stroke-linecap="butt"/>
<rect x="550.00" y="863.40" width="9.80" height="101.00" fill="#626262" stroke="#000" stroke-width="1.6"/>
<line x1="571.10" y1="908.70" x2="571.10" y2="907.70" stroke="#000" stroke-width="1.6" stroke-linecap="butt"/>
<line x1="568.00" y1="907.70" x2="574.20" y2="907.70" stroke="#000" stroke-width="2.0" stroke-linecap="butt"/>
<rect x="565.80" y="908.70" width="10.60" height="55.70" fill="#d2d2d2" stroke="#000" stroke-width="1.6"/>
<line x1="562.60" y1="964.40" x2="562.60" y2="971.20" stroke="#000" stroke-width="1.7" stroke-linecap="butt"/>
<line x1="598.55" y1="925.00" x2="598.55" y2="923.80" stroke="#000" stroke-width="1.6" stroke-linecap="butt"/>
<line x1="595.45" y1="923.80" x2="601.65" y2="923.80" stroke="#000" stroke-width="2.0" stroke-linecap="butt"/>
<rect x="593.50" y="925.00" width="10.10" height="39.40" fill="#626262" stroke="#000" stroke-width="1.6"/>
<line x1="614.60" y1="950.20" x2="614.60" y2="949.20" stroke="#000" stroke-width="1.6" stroke-linecap="butt"/>
<line x1="611.50" y1="949.20" x2="617.70" y2="949.20" stroke="#000" stroke-width="2.0" stroke-linecap="butt"/>
<rect x="609.20" y="950.20" width="10.80" height="14.20" fill="#d2d2d2" stroke="#000" stroke-width="1.6"/>
<line x1="606.10" y1="964.40" x2="606.10" y2="971.20" stroke="#000" stroke-width="1.7" stroke-linecap="butt"/>
<line x1="642.30" y1="954.30" x2="642.30" y2="953.30" stroke="#000" stroke-width="1.6" stroke-linecap="butt"/>
<line x1="639.20" y1="953.30" x2="645.40" y2="953.30" stroke="#000" stroke-width="2.0" stroke-linecap="butt"/>
<rect x="636.90" y="954.30" width="10.80" height="10.10" fill="#626262" stroke="#000" stroke-width="1.6"/>
<rect x="652.70" y="959.90" width="10.60" height="4.50" fill="#d2d2d2" stroke="#000" stroke-width="1.6"/>
<line x1="650.40" y1="964.40" x2="650.40" y2="971.20" stroke="#000" stroke-width="1.7" stroke-linecap="butt"/>
<text transform="translate(68.62,994.70) scale(0.983,1)" font-size="12.8" font-weight="bold" fill="#0a0a0a" stroke="#0a0a0a" stroke-width="0.3">mock</text>
<text x="128.60" y="994.00" font-size="11.5" text-anchor="middle" font-weight="bold" fill="#0a0a0a" stroke="#0a0a0a" stroke-width="0.0">-</text>
<text x="172.00" y="994.50" font-size="12.3" text-anchor="middle" font-weight="bold" fill="#0a0a0a" stroke="#0a0a0a" stroke-width="0.3">0.1</text>
<text x="215.60" y="994.50" font-size="12.3" text-anchor="middle" font-weight="bold" fill="#0a0a0a" stroke="#0a0a0a" stroke-width="0.3">1</text>
<text x="259.00" y="994.50" font-size="12.3" text-anchor="middle" font-weight="bold" fill="#0a0a0a" stroke="#0a0a0a" stroke-width="0.3">10</text>
<text x="302.20" y="994.50" font-size="12.3" text-anchor="middle" font-weight="bold" fill="#0a0a0a" stroke="#0a0a0a" stroke-width="0.3">1</text>
<text x="345.80" y="994.50" font-size="12.3" text-anchor="middle" font-weight="bold" fill="#0a0a0a" stroke="#0a0a0a" stroke-width="0.3">10</text>
<text x="389.00" y="994.50" font-size="12.3" text-anchor="middle" font-weight="bold" fill="#0a0a0a" stroke="#0a0a0a" stroke-width="0.3">100</text>
<text x="432.30" y="994.50" font-size="12.3" text-anchor="middle" font-weight="bold" fill="#0a0a0a" stroke="#0a0a0a" stroke-width="0.3">1</text>
<text x="475.70" y="994.50" font-size="12.3" text-anchor="middle" font-weight="bold" fill="#0a0a0a" stroke="#0a0a0a" stroke-width="0.3">10</text>
<text x="519.10" y="994.50" font-size="12.3" text-anchor="middle" font-weight="bold" fill="#0a0a0a" stroke="#0a0a0a" stroke-width="0.3">100</text>
<text x="562.60" y="994.50" font-size="12.3" text-anchor="middle" font-weight="bold" fill="#0a0a0a" stroke="#0a0a0a" stroke-width="0.3">1</text>
<text x="606.10" y="994.50" font-size="12.3" text-anchor="middle" font-weight="bold" fill="#0a0a0a" stroke="#0a0a0a" stroke-width="0.3">10</text>
<text x="650.40" y="994.50" font-size="12.3" text-anchor="middle" font-weight="bold" fill="#0a0a0a" stroke="#0a0a0a" stroke-width="0.3">100</text>
<text x="181.10" y="929.79" font-size="12.3" text-anchor="middle" font-weight="normal" fill="#3c3c3c" stroke="#3c3c3c" stroke-width="0.25">***</text>
<text x="207.90" y="901.59" font-size="12.3" text-anchor="middle" font-weight="normal" fill="#3c3c3c" stroke="#3c3c3c" stroke-width="0.25">***</text>
<text x="224.20" y="946.09" font-size="12.3" text-anchor="middle" font-weight="normal" fill="#3c3c3c" stroke="#3c3c3c" stroke-width="0.25">***</text>
<text x="252.70" y="943.09" font-size="12.3" text-anchor="middle" font-weight="normal" fill="#3c3c3c" stroke="#3c3c3c" stroke-width="0.25">***</text>
<text x="267.80" y="955.09" font-size="12.3" text-anchor="middle" font-weight="normal" fill="#3c3c3c" stroke="#3c3c3c" stroke-width="0.25">***</text>
<text x="294.90" y="828.19" font-size="12.3" text-anchor="middle" font-weight="normal" fill="#3c3c3c" stroke="#3c3c3c" stroke-width="0.25">**</text>
<text x="338.90" y="877.49" font-size="12.3" text-anchor="middle" font-weight="normal" fill="#3c3c3c" stroke="#3c3c3c" stroke-width="0.25">***</text>
<text x="426.20" y="813.29" font-size="12.3" text-anchor="middle" font-weight="normal" fill="#3c3c3c" stroke="#3c3c3c" stroke-width="0.25">**</text>
<text x="311.10" y="929.99" font-size="12.3" text-anchor="middle" font-weight="normal" fill="#3c3c3c" stroke="#3c3c3c" stroke-width="0.25">***</text>
<text x="354.60" y="936.29" font-size="12.3" text-anchor="middle" font-weight="normal" fill="#3c3c3c" stroke="#3c3c3c" stroke-width="0.25">***</text>
<text x="382.60" y="899.89" font-size="12.3" text-anchor="middle" font-weight="normal" fill="#3c3c3c" stroke="#3c3c3c" stroke-width="0.25">**</text>
<text x="397.80" y="957.39" font-size="12.3" text-anchor="middle" font-weight="normal" fill="#3c3c3c" stroke="#3c3c3c" stroke-width="0.25">***</text>
<text x="442.40" y="929.99" font-size="12.3" text-anchor="middle" font-weight="normal" fill="#3c3c3c" stroke="#3c3c3c" stroke-width="0.25">***</text>
<text x="485.90" y="930.99" font-size="12.3" text-anchor="middle" font-weight="normal" fill="#3c3c3c" stroke="#3c3c3c" stroke-width="0.25">***</text>
<text x="511.50" y="943.09" font-size="12.3" text-anchor="middle" font-weight="normal" fill="#3c3c3c" stroke="#3c3c3c" stroke-width="0.25">***</text>
<text x="528.20" y="958.59" font-size="12.3" text-anchor="middle" font-weight="normal" fill="#3c3c3c" stroke="#3c3c3c" stroke-width="0.25">***</text>
<text x="571.20" y="907.89" font-size="12.3" text-anchor="middle" font-weight="normal" fill="#3c3c3c" stroke="#3c3c3c" stroke-width="0.25">**</text>
<text x="599.30" y="924.19" font-size="12.3" text-anchor="middle" font-weight="normal" fill="#3c3c3c" stroke="#3c3c3c" stroke-width="0.25">***</text>
<text x="616.00" y="948.09" font-size="12.3" text-anchor="middle" font-weight="normal" fill="#3c3c3c" stroke="#3c3c3c" stroke-width="0.25">***</text>
<text x="642.80" y="950.59" font-size="12.3" text-anchor="middle" font-weight="normal" fill="#3c3c3c" stroke="#3c3c3c" stroke-width="0.25">***</text>
<text x="658.40" y="957.39" font-size="12.3" text-anchor="middle" font-weight="normal" fill="#3c3c3c" stroke="#3c3c3c" stroke-width="0.25">***</text>
<text x="165.40" y="852.60" font-size="10.8" text-anchor="middle" font-weight="normal" fill="#2a2a2a">ns</text>
<text x="468.30" y="865.60" font-size="10.8" text-anchor="middle" font-weight="normal" fill="#2a2a2a">ns</text>
<text x="555.40" y="856.80" font-size="10.8" text-anchor="middle" font-weight="normal" fill="#2a2a2a">ns</text>
<line x1="158.60" y1="999.60" x2="274.00" y2="999.60" stroke="#000" stroke-width="1.7" stroke-linecap="butt"/>
<line x1="158.60" y1="994.40" x2="158.60" y2="1004.80" stroke="#000" stroke-width="1.7" stroke-linecap="butt"/>
<line x1="274.00" y1="994.40" x2="274.00" y2="1004.80" stroke="#000" stroke-width="1.7" stroke-linecap="butt"/>
<text transform="translate(170.21,1016.30) scale(0.991,1)" font-size="12.8" font-weight="bold" fill="#0a0a0a" stroke="#0a0a0a" stroke-width="0.15">LY294002 (µM)</text>
<line x1="290.70" y1="999.40" x2="404.00" y2="999.40" stroke="#000" stroke-width="1.7" stroke-linecap="butt"/>
<line x1="290.70" y1="994.20" x2="290.70" y2="1004.60" stroke="#000" stroke-width="1.7" stroke-linecap="butt"/>
<line x1="404.00" y1="994.20" x2="404.00" y2="1004.60" stroke="#000" stroke-width="1.7" stroke-linecap="butt"/>
<text transform="translate(301.51,1015.60) scale(1.070,1)" font-size="13.2" font-weight="bold" fill="#0a0a0a" stroke="#0a0a0a" stroke-width="0.3">PD98059 (µM)</text>
<line x1="417.70" y1="999.40" x2="535.00" y2="999.40" stroke="#000" stroke-width="1.7" stroke-linecap="butt"/>
<line x1="417.70" y1="994.20" x2="417.70" y2="1004.60" stroke="#000" stroke-width="1.7" stroke-linecap="butt"/>
<line x1="535.00" y1="994.20" x2="535.00" y2="1004.60" stroke="#000" stroke-width="1.7" stroke-linecap="butt"/>
<text transform="translate(440.95,1015.20) scale(1.073,1)" font-size="13.2" font-weight="bold" fill="#0a0a0a" stroke="#0a0a0a" stroke-width="0.3">U0126 (µM)</text>
<line x1="546.90" y1="999.60" x2="665.50" y2="999.60" stroke="#000" stroke-width="1.7" stroke-linecap="butt"/>
<line x1="546.90" y1="994.40" x2="546.90" y2="1004.80" stroke="#000" stroke-width="1.7" stroke-linecap="butt"/>
<line x1="665.50" y1="994.40" x2="665.50" y2="1004.80" stroke="#000" stroke-width="1.7" stroke-linecap="butt"/>
<text transform="translate(557.58,1015.00) scale(1.069,1)" font-size="13.2" font-weight="bold" fill="#0a0a0a" stroke="#0a0a0a" stroke-width="0.3">SB202190 (nM)</text>
<line x1="108.30" y1="1027.30" x2="663.80" y2="1027.30" stroke="#000" stroke-width="1.7" stroke-linecap="butt"/>
<line x1="108.30" y1="1021.70" x2="108.30" y2="1032.90" stroke="#000" stroke-width="1.7" stroke-linecap="butt"/>
<line x1="663.80" y1="1021.70" x2="663.80" y2="1032.90" stroke="#000" stroke-width="1.7" stroke-linecap="butt"/>
<text transform="translate(283.12,1042.80) scale(1.062,1)" font-size="13.6" font-weight="bold" fill="#0a0a0a" stroke="#0a0a0a" stroke-width="0.3">gp120 (10 nM)</text>
<rect x="570.6" y="782" width="21.8" height="13.2" rx="1.5" fill="#626262" stroke="#000" stroke-width="1.5"/>
<rect x="570.6" y="806.8" width="21.8" height="11.4" rx="1.5" fill="#d2d2d2" stroke="#000" stroke-width="1.5"/>
<text transform="translate(603.47,794.80) scale(0.990,1)" font-size="16.5" font-weight="normal" fill="#333">TNF-α</text>
<text transform="translate(603.50,817.90) scale(1.009,1)" font-size="16.5" font-weight="normal" fill="#333">IL-10</text>
</svg>
</body></html>
